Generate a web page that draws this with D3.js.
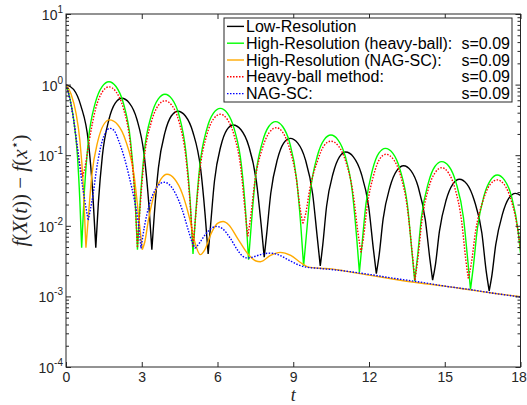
<!DOCTYPE html>
<html>
<head>
<meta charset="utf-8">
<script src="https://cdn.jsdelivr.net/npm/d3@7"></script>
<style>
  body { margin: 0; background: #fff; }
  svg { display: block; font-family: "Liberation Sans", Arial, sans-serif; }
</style>
</head>
<body>
<div id="chart"></div>
<script>
// -------- Data --------
const xTicks = [0, 3, 6, 9, 12, 15, 18];
const yTicks = [1e-4, 1e-3, 1e-2, 1e-1, 1e0, 1e1];
const seriesNames = [
  'Low-Resolution',
  'High-Resolution (heavy-ball):',
  'High-Resolution (NAG-SC):',
  'Heavy-ball method:',
  'NAG-SC:'
];
const stepLabels = ['', 's=0.09', 's=0.09', 's=0.09', 's=0.09'];

// [t, f(X(t)) - f(x*)]
const lowRes = [
  [0, 1.0], [0.30, 0.854], [0.59, 0.5], [0.89, 0.151], [1.06, 0.029], [1.18, 0.0049],
  [1.28, 0.0206], [1.44, 0.098], [1.70, 0.32], [1.95, 0.547], [2.21, 0.64],
  [2.51, 0.547], [2.81, 0.32], [3.10, 0.098], [3.28, 0.0203], [3.40, 0.0046],
  [3.50, 0.0149], [3.66, 0.066], [3.92, 0.21], [4.17, 0.359], [4.43, 0.42],
  [4.73, 0.359], [5.03, 0.21], [5.33, 0.065], [5.51, 0.0143], [5.63, 0.0040],
  [5.73, 0.0106], [5.88, 0.0431], [6.13, 0.134], [6.37, 0.229], [6.62, 0.268],
  [6.93, 0.229], [7.24, 0.134], [7.54, 0.0427], [7.73, 0.0102], [7.85, 0.0036],
  [7.95, 0.0078], [8.11, 0.0289], [8.37, 0.0865], [8.62, 0.148], [8.88, 0.173],
  [9.18, 0.148], [9.48, 0.0865], [9.77, 0.028], [9.95, 0.0069], [10.07, 0.0027],
  [10.17, 0.0054], [10.32, 0.0189], [10.58, 0.0555], [10.83, 0.0948], [11.08, 0.111],
  [11.38, 0.0948], [11.69, 0.0555], [11.99, 0.0183], [12.17, 0.0048], [12.29, 0.0021],
  [12.40, 0.0038], [12.56, 0.0125], [12.83, 0.0355], [13.10, 0.0606], [13.37, 0.071],
  [13.66, 0.0606], [13.95, 0.0355], [14.23, 0.0121], [14.41, 0.0034], [14.52, 0.0017],
  [14.63, 0.0028], [14.79, 0.0084], [15.05, 0.0228], [15.32, 0.0389], [15.58, 0.0456],
  [15.88, 0.0389], [16.17, 0.0228], [16.47, 0.0079], [16.64, 0.0023], [16.76, 0.0012],
  [16.86, 0.0019], [17.02, 0.0054], [17.28, 0.0144], [17.54, 0.0246], [17.80, 0.0288],
  [18, 0.0269]
];
const lowResCusps = [1.18, 3.40, 5.63, 7.85, 10.07, 12.29, 14.52, 16.76];

const hrHeavy = [
  [0, 1.0], [0.15, 0.65], [0.30, 0.326], [0.45, 0.102], [0.55, 0.022], [0.62, 0.0049],
  [0.73, 0.032], [0.89, 0.166], [1.16, 0.55], [1.43, 0.939], [1.70, 1.10],
  [1.98, 0.939], [2.27, 0.55], [2.55, 0.165], [2.72, 0.0316], [2.83, 0.0046],
  [2.94, 0.0225], [3.10, 0.111], [3.38, 0.365], [3.65, 0.623], [3.92, 0.73],
  [4.20, 0.623], [4.48, 0.365], [4.75, 0.11], [4.92, 0.0219], [5.03, 0.0040],
  [5.14, 0.0153], [5.30, 0.0713], [5.57, 0.2305], [5.84, 0.394], [6.11, 0.461],
  [6.39, 0.394], [6.67, 0.2305], [6.95, 0.0706], [7.12, 0.0146], [7.23, 0.0033],
  [7.34, 0.0106], [7.50, 0.047], [7.77, 0.1495], [8.03, 0.255], [8.30, 0.299],
  [8.58, 0.255], [8.86, 0.1495], [9.13, 0.0464], [9.30, 0.010], [9.41, 0.0027],
  [9.52, 0.0074], [9.68, 0.0309], [9.95, 0.0965], [10.22, 0.165], [10.49, 0.193],
  [10.77, 0.165], [11.06, 0.0965], [11.34, 0.0304], [11.51, 0.0069], [11.62, 0.0022],
  [11.72, 0.0053], [11.88, 0.0205], [12.14, 0.0625], [12.39, 0.1068], [12.65, 0.125],
  [12.94, 0.1068], [13.23, 0.0625], [13.52, 0.0199], [13.69, 0.0047], [13.81, 0.00166],
  [13.92, 0.0036], [14.08, 0.0135], [14.35, 0.0405], [14.61, 0.0692], [14.88, 0.081],
  [15.17, 0.0692], [15.45, 0.0405], [15.74, 0.0131], [15.91, 0.0033], [16.02, 0.00126],
  [16.13, 0.0026], [16.29, 0.009], [16.55, 0.0263], [16.82, 0.0448], [17.08, 0.0525],
  [17.36, 0.0448], [17.64, 0.0263], [17.92, 0.0077], [18, 0.0041]
];
const hrHeavyCusps = [0.62, 2.83, 5.03, 7.23, 9.41, 11.62, 13.81, 16.02];

const hrNag = [
  [0, 1.0], [0.20, 0.736], [0.40, 0.387], [0.55, 0.161], [0.68, 0.04], [0.79, 0.0049],
  [0.88, 0.0126], [1.02, 0.051], [1.26, 0.158], [1.49, 0.27], [1.72, 0.316],
  [2.05, 0.27], [2.37, 0.158], [2.70, 0.0507], [2.89, 0.0123], [3.02, 0.0046],
  [3.12, 0.0059], [3.27, 0.0124], [3.51, 0.029], [3.76, 0.0459], [4.00, 0.0537],
  [4.30, 0.046], [4.60, 0.029], [4.90, 0.0125], [5.10, 0.0059], [5.32, 0.0039],
  [5.50, 0.0046], [5.75, 0.0078], [6.00, 0.0108], [6.22, 0.0115], [6.45, 0.0103],
  [6.80, 0.0066], [7.20, 0.0040], [7.50, 0.0032], [7.70, 0.0031], [8.10, 0.0038],
  [8.48, 0.0042], [8.90, 0.0038], [9.30, 0.0030], [9.60, 0.0026], [10.07, 0.0025],
  [10.50, 0.00245], [11, 0.0023], [12, 0.0020], [13, 0.00175], [14, 0.00155],
  [15, 0.0014], [16, 0.00124], [17, 0.0011], [18, 0.00099]
];
const hrNagCusps = [0.79, 3.02];

const heavyBall = [
  [0, 1.0], [0.15, 0.64], [0.30, 0.32], [0.45, 0.125], [0.56, 0.07], [0.66, 0.05],
  [0.76, 0.07], [0.92, 0.16], [1.18, 0.465], [1.44, 0.79], [1.70, 0.93],
  [1.98, 0.79], [2.27, 0.465], [2.55, 0.141], [2.72, 0.0278], [2.83, 0.005],
  [2.94, 0.0195], [3.10, 0.091], [3.38, 0.295], [3.65, 0.504], [3.92, 0.59],
  [4.20, 0.504], [4.48, 0.295], [4.75, 0.091], [4.92, 0.0195], [5.03, 0.005],
  [5.14, 0.0143], [5.30, 0.0605], [5.57, 0.19], [5.84, 0.325], [6.11, 0.38],
  [6.38, 0.325], [6.66, 0.19], [6.93, 0.0625], [7.09, 0.0164], [7.20, 0.0071],
  [7.31, 0.0131], [7.48, 0.0429], [7.77, 0.1225], [8.05, 0.209], [8.33, 0.245],
  [8.59, 0.209], [8.86, 0.1225], [9.12, 0.0466], [9.28, 0.0168], [9.38, 0.0108],
  [9.49, 0.0147], [9.66, 0.0339], [9.94, 0.079], [10.21, 0.135], [10.49, 0.158],
  [10.79, 0.135], [11.09, 0.079], [11.38, 0.0273], [11.56, 0.0081], [11.68, 0.0042],
  [11.78, 0.0067], [11.93, 0.0192], [12.18, 0.0515], [12.42, 0.088], [12.67, 0.103],
  [12.96, 0.088], [13.25, 0.0515], [13.53, 0.0167], [13.71, 0.0042], [13.82, 0.0017],
  [13.93, 0.0033], [14.09, 0.0114], [14.35, 0.0333], [14.62, 0.0568], [14.88, 0.0665],
  [15.14, 0.0568], [15.41, 0.0333], [15.67, 0.0115], [15.83, 0.0034], [15.93, 0.0018],
  [16.05, 0.0029], [16.22, 0.0083], [16.51, 0.0224], [16.79, 0.0382], [17.08, 0.0447],
  [17.36, 0.0382], [17.64, 0.0224], [17.92, 0.0075], [18, 0.0045]
];
const heavyBallCusps = [0.66, 2.83, 5.03, 7.20, 9.38, 11.68, 13.82, 15.93];

const nagSC = [
  [0, 1.0], [0.15, 0.63], [0.30, 0.32], [0.45, 0.13], [0.60, 0.05], [0.75, 0.022], [0.88, 0.012],
  [0.95, 0.016], [1.08, 0.029], [1.20, 0.06], [1.35, 0.12], [1.55, 0.205], [1.74, 0.24],
  [1.90, 0.225], [2.10, 0.155], [2.30, 0.095], [2.50, 0.05], [2.70, 0.024], [2.85, 0.012], [2.97, 0.0048],
  [3.10, 0.0095], [3.30, 0.02], [3.55, 0.033], [3.75, 0.040], [3.90, 0.0413], [4.10, 0.038],
  [4.35, 0.028], [4.60, 0.017], [4.85, 0.0085], [5.00, 0.0058], [5.12, 0.0048],
  [5.30, 0.0058], [5.55, 0.0078], [5.80, 0.0094], [5.97, 0.0098], [6.20, 0.0091],
  [6.50, 0.0067], [6.80, 0.0045], [7.00, 0.0037], [7.20, 0.0035], [7.50, 0.0037],
  [7.80, 0.0040], [8.10, 0.0041], [8.40, 0.0039], [8.80, 0.0033], [9.20, 0.0028],
  [9.50, 0.0026], [10, 0.0025], [11, 0.0023], [12, 0.00205], [13, 0.0018],
  [14, 0.0016], [15, 0.0014], [16, 0.00125], [17, 0.0011], [18, 0.00098]
];
const nagSCCusps = [0.88, 2.97, 5.12];

// -------- Layout --------
const width = 527, height = 405;
const plot = { left: 66, right: 520.5, top: 14, bottom: 367 };
const axisColor = '#262626';
const tickFont = 14;

const series = [
  { data: lowRes,    cusps: lowResCusps,    color: '#000000', dash: null },
  { data: hrHeavy,   cusps: hrHeavyCusps,   color: '#00ff00', dash: null },
  { data: hrNag,     cusps: hrNagCusps,     color: '#ffaa00', dash: null },
  { data: heavyBall, cusps: heavyBallCusps, color: '#ff0000', dash: '1.5,1.5' },
  { data: nagSC,     cusps: nagSCCusps,     color: '#0000ff', dash: '1.5,1.5' }
];

const x = d3.scaleLinear().domain([0, 18]).range([plot.left, plot.right]);
const y = d3.scaleLog().domain([1e-4, 1e1]).range([plot.bottom, plot.top]);

const isPow10 = v => Math.abs(Math.log10(v) - Math.round(Math.log10(v))) < 1e-6;
const minorTicks = y.ticks().filter(v => !isPow10(v));

const svg = d3.select('#chart').append('svg')
  .attr('width', width)
  .attr('height', height);

svg.append('clipPath').attr('id', 'clip')
  .append('rect')
    .attr('x', plot.left).attr('y', plot.top)
    .attr('width', plot.right - plot.left)
    .attr('height', plot.bottom - plot.top);

// -------- Curves (split at cusps so the V bottoms stay sharp) --------
const line = d3.line()
  .x(d => x(d[0]))
  .y(d => y(d[1]))
  .curve(d3.curveMonotoneX);

function pieces(points, cusps) {
  const out = [];
  let cur = [];
  points.forEach(p => {
    cur.push(p);
    if (cusps.includes(p[0])) { out.push(cur); cur = [p]; }
  });
  if (cur.length > 1) out.push(cur);
  return out;
}

svg.append('g').attr('clip-path', 'url(#clip)')
  .selectAll('path')
  .data(series)
  .join('path')
    .attr('d', s => pieces(s.data, s.cusps).map(seg => line(seg)).join(''))
    .attr('fill', 'none')
    .attr('stroke', s => s.color)
    .attr('stroke-width', 1.4)
    .attr('stroke-dasharray', s => s.dash);

// -------- Axes (ticks point inward, box on) --------
function styleAxis(g) {
  g.select('.domain').remove();
  g.selectAll('.tick line').attr('stroke', axisColor);
  g.selectAll('.tick text')
    .attr('fill', axisColor)
    .attr('font-size', tickFont)
    .attr('font-family', '"Liberation Sans", Arial, sans-serif');
}

svg.append('g')
  .attr('transform', `translate(0,${plot.bottom})`)
  .call(d3.axisBottom(x).tickValues(xTicks).tickSizeInner(-5).tickSizeOuter(0).tickPadding(5))
  .call(styleAxis)
  .call(g => g.selectAll('.tick text').filter(d => d === 18).attr('dx', -2));

svg.append('g')
  .attr('transform', `translate(0,${plot.top})`)
  .call(d3.axisTop(x).tickValues(xTicks).tickSizeInner(-5).tickSizeOuter(0).tickFormat(''))
  .call(styleAxis);

[[d3.axisLeft, plot.left], [d3.axisRight, plot.right]].forEach(([axisFn, pos]) => {
  svg.append('g')
    .attr('transform', `translate(${pos},0)`)
    .call(axisFn(y).tickValues(yTicks).tickSizeInner(-5).tickSizeOuter(0).tickFormat(''))
    .call(styleAxis);
  svg.append('g')
    .attr('transform', `translate(${pos},0)`)
    .call(axisFn(y).tickValues(minorTicks).tickSizeInner(-3).tickSizeOuter(0).tickFormat(''))
    .call(styleAxis);
});

// y tick labels as 10^k
const yLab = svg.append('g').selectAll('text')
  .data(yTicks)
  .join('text')
    .attr('x', plot.left - 3)
    .attr('y', d => y(d) + 6)
    .attr('text-anchor', 'end')
    .attr('font-size', tickFont)
    .attr('fill', axisColor)
    .text('10');
yLab.append('tspan')
  .attr('dy', -7)
  .attr('font-size', 10)
  .text(d => Math.round(Math.log10(d)));

svg.append('rect')
  .attr('x', plot.left).attr('y', plot.top)
  .attr('width', plot.right - plot.left)
  .attr('height', plot.bottom - plot.top)
  .attr('fill', 'none')
  .attr('stroke', axisColor)
  .attr('stroke-width', 1);

// -------- Axis titles --------
const serif = '"Liberation Serif", "Times New Roman", serif';
svg.append('text')
  .attr('x', (plot.left + plot.right) / 2)
  .attr('y', 401)
  .attr('text-anchor', 'middle')
  .attr('font-family', serif)
  .attr('font-style', 'italic')
  .attr('font-size', 18)
  .attr('fill', axisColor)
  .text('t');

const yTitle = svg.append('text')
  .attr('transform', `translate(27,${(plot.top + plot.bottom) / 2}) rotate(-90)`)
  .attr('text-anchor', 'middle')
  .attr('font-family', serif)
  .attr('font-size', 21)
  .attr('fill', axisColor);
[
  ['f', true], ['(', false], ['X', true], ['(', false], ['t', true], [')) \u2212 ', false],
  ['f', true], ['(', false], ['x', true]
].forEach(([s, it]) => yTitle.append('tspan').attr('font-style', it ? 'italic' : 'normal').text(s));
yTitle.append('tspan').attr('dy', -8).attr('font-size', 13).text('\u22c6');
yTitle.append('tspan').attr('dy', 8).text(')');

// -------- Legend --------
const legend = { x0: 224, y0: 18, x1: 512, y1: 102 };
const rowH = (legend.y1 - legend.y0) / seriesNames.length;

svg.append('rect')
  .attr('x', legend.x0).attr('y', legend.y0)
  .attr('width', legend.x1 - legend.x0)
  .attr('height', legend.y1 - legend.y0)
  .attr('fill', '#fff')
  .attr('stroke', axisColor)
  .attr('stroke-width', 1);

const rows = svg.append('g').selectAll('g')
  .data(series)
  .join('g')
    .attr('transform', (d, i) => `translate(0,${legend.y0 + rowH * (i + 0.5)})`);

rows.append('line')
  .attr('x1', legend.x0 + 3).attr('x2', legend.x0 + 20)
  .attr('stroke', d => d.color)
  .attr('stroke-width', 1.4)
  .attr('stroke-dasharray', d => d.dash);

rows.append('text')
  .attr('x', legend.x0 + 22)
  .attr('y', 5.5)
  .attr('font-size', 16)
  .attr('fill', '#000')
  .text((d, i) => seriesNames[i]);

rows.append('text')
  .attr('x', legend.x1 - 2)
  .attr('y', 5.5)
  .attr('text-anchor', 'end')
  .attr('font-size', 16)
  .attr('fill', '#000')
  .text((d, i) => stepLabels[i]);
</script>
</body>
</html>
